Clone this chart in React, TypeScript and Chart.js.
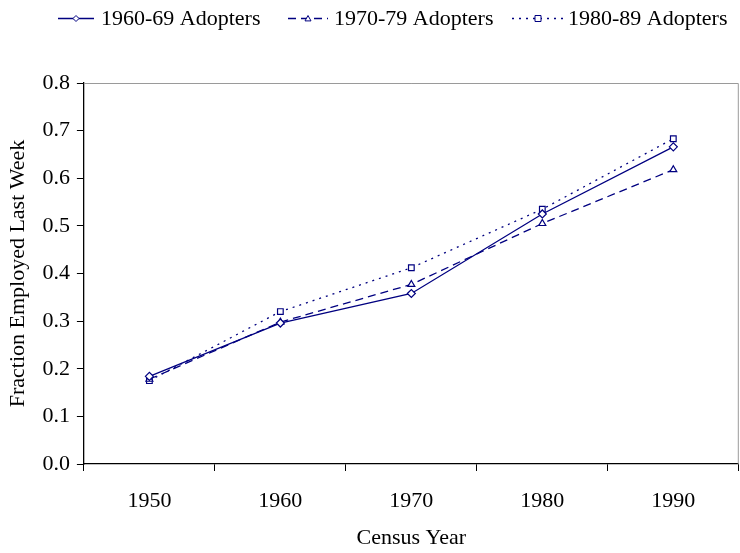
import React, { useEffect, useRef } from "react";
import { Chart, registerables } from "chart.js";

Chart.register(...registerables);

const years = ["1950", "1960", "1970", "1980", "1990"];
const adopters6069 = [0.184, 0.296, 0.358, 0.525, 0.666];
const adopters7079 = [0.178, 0.298, 0.377, 0.505, 0.618];
const adopters8089 = [0.175, 0.32, 0.412, 0.535, 0.683];
const seriesNames = ["1960-69 Adopters", "1970-79 Adopters", "1980-89 Adopters"];
const yTicks = [0, 0.1, 0.2, 0.3, 0.4, 0.5, 0.6, 0.7, 0.8];

const NAVY = "#000080";
const FONT = "'Liberation Serif', 'Times New Roman', serif";
const FS = 22;

const legendLayout = [
  { x0: 58, x1: 94, tx: 101 },
  { x0: 288, x1: 328, tx: 334 },
  { x0: 512, x1: 564, tx: 568 },
];

function drawMarker(ctx: CanvasRenderingContext2D, style: string, x: number, y: number, r: number) {
  ctx.beginPath();
  if (style === "rectRot") {
    ctx.moveTo(x, y - r);
    ctx.lineTo(x + r, y);
    ctx.lineTo(x, y + r);
    ctx.lineTo(x - r, y);
    ctx.closePath();
  } else if (style === "triangle") {
    ctx.moveTo(x, y - r);
    ctx.lineTo(x + r, y + r * 0.8);
    ctx.lineTo(x - r, y + r * 0.8);
    ctx.closePath();
  } else {
    ctx.rect(x - r, y - r, 2 * r, 2 * r);
  }
  ctx.fillStyle = "#fff";
  ctx.fill();
  ctx.strokeStyle = NAVY;
  ctx.stroke();
}

const frameAndLegend = {
  id: "frameAndLegend",
  afterDraw(chart: any) {
    const ctx = chart.ctx;
    const a = chart.chartArea;
    ctx.save();
    ctx.strokeStyle = "#9a9a9a";
    ctx.lineWidth = 1;
    ctx.beginPath();
    ctx.moveTo(a.left, a.top + 0.5);
    ctx.lineTo(a.right - 0.5, a.top + 0.5);
    ctx.lineTo(a.right - 0.5, a.bottom);
    ctx.stroke();
    const y = 18;
    chart.data.datasets.forEach((ds: any, i: number) => {
      const L = legendLayout[i];
      ctx.strokeStyle = NAVY;
      ctx.lineWidth = ds.borderWidth;
      ctx.setLineDash(ds.borderDash || []);
      ctx.beginPath();
      ctx.moveTo(L.x0, y + 0.5);
      ctx.lineTo(L.x1, y + 0.5);
      ctx.stroke();
      ctx.setLineDash([]);
      ctx.lineWidth = 1;
      drawMarker(ctx, ds.pointStyle, (L.x0 + L.x1) / 2, y + 0.5, 3);
      ctx.fillStyle = "#000";
      ctx.font = `${FS}px ${FONT}`;
      ctx.textBaseline = "middle";
      ctx.textAlign = "left";
      ctx.fillText(ds.label, L.tx, y + 1);
    });
    ctx.restore();
  },
};

export default function App() {
  const ref = useRef<HTMLCanvasElement>(null);
  useEffect(() => {
    document.body.style.margin = "0";
    const common = {
      borderColor: NAVY,
      borderWidth: 1.3,
      pointRadius: 4,
      pointBorderColor: NAVY,
      pointBackgroundColor: "#fff",
      pointBorderWidth: 1.2,
    };
    const chart = new Chart(ref.current!, {
      type: "line",
      data: {
        labels: years,
        datasets: [
          { ...common, label: seriesNames[0], data: adopters6069, pointStyle: "rectRot" },
          { ...common, label: seriesNames[1], data: adopters7079, borderDash: [8, 5], pointStyle: "triangle" },
          { ...common, label: seriesNames[2], data: adopters8089, borderDash: [2, 5], pointStyle: "rect" },
        ] as any,
      },
      options: {
        animation: false,
        responsive: false,
        layout: { padding: { top: 83, left: 5, right: 0, bottom: 0 } },
        plugins: {
          legend: { display: false },
          tooltip: { enabled: false },
        },
        scales: {
          x: {
            offset: true,
            afterFit: (s: any) => {
              s.height = 89;
            },
            grid: {
              offset: true,
              drawOnChartArea: false,
              drawTicks: true,
              tickLength: 7,
              color: "#000",
            },
            border: { color: "#000", width: 1.3 },
            ticks: { color: "#000", font: { family: FONT, size: FS }, padding: 17, maxRotation: 0 },
            title: {
              display: true,
              text: "Census Year",
              color: "#000",
              font: { family: FONT, size: FS, lineHeight: 1 },
              padding: { top: 0, bottom: 4 },
            },
          },
          y: {
            min: 0,
            max: 0.8,
            afterBuildTicks: (s: any) => {
              s.ticks = yTicks.map((v) => ({ value: v }));
            },
            grid: {
              drawOnChartArea: false,
              drawTicks: true,
              tickLength: 7,
              color: "#000",
            },
            border: { color: "#000", width: 1.3 },
            ticks: {
              color: "#000",
              font: { family: FONT, size: FS },
              padding: 7,
              callback: (v: any) => Number(v).toFixed(1),
            },
            title: {
              display: true,
              text: "Fraction Employed Last Week",
              color: "#000",
              font: { family: FONT, size: FS },
              padding: { top: 0, bottom: 4 },
            },
          },
        },
      },
      plugins: [frameAndLegend],
    });
    return () => chart.destroy();
  }, []);
  return (
    <div style={{ width: 740, height: 553, overflow: "hidden" }}>
      <canvas ref={ref} width={744} height={553} />
    </div>
  );
}
